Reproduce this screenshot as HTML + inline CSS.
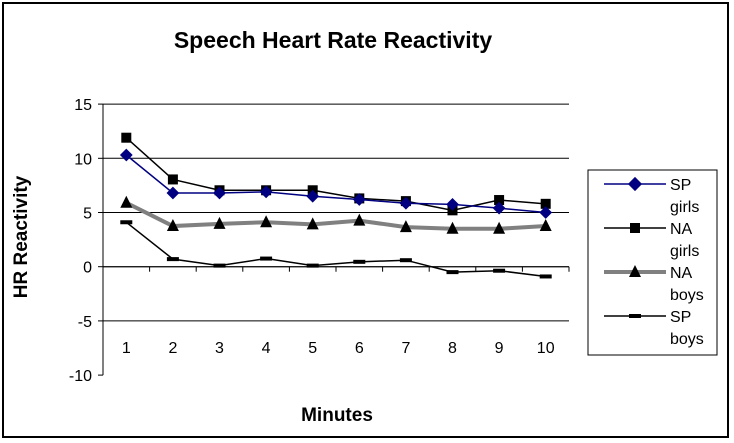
<!DOCTYPE html>
<html><head><meta charset="utf-8"><style>
body{margin:0;background:#fff;}
svg{display:block;font-family:"Liberation Sans",Arial,sans-serif;}
</style></head><body>
<svg width="734" height="443">
<rect x="3" y="3" width="725" height="434" fill="#fff" stroke="#000" stroke-width="2"/>
<text x="333" y="48" text-anchor="middle" font-size="23" font-weight="bold">Speech Heart Rate Reactivity</text>
<text transform="translate(27,237) rotate(-90)" text-anchor="middle" font-size="19" font-weight="bold">HR Reactivity</text>
<text x="337" y="421" text-anchor="middle" font-size="19" font-weight="bold">Minutes</text>
<g id="grid"></g><g id="axes"></g><g id="series"></g>
<g>
<rect x="588" y="170" width="129" height="185" fill="#fff" stroke="#000" stroke-width="1"/>
<g font-size="16">
<line x1="604" y1="184" x2="666" y2="184" stroke="#000080" stroke-width="1.5"/><rect x="630" y="179" width="10" height="10" fill="#000080" transform="rotate(45 635 184)"/>
<text x="670" y="190">SP</text><text x="670" y="212">girls</text>
<line x1="604" y1="228" x2="666" y2="228" stroke="#000" stroke-width="1.5"/><rect x="630" y="223" width="10" height="10" fill="#000"/>
<text x="670" y="234">NA</text><text x="670" y="256">girls</text>
<line x1="604" y1="272" x2="666" y2="272" stroke="#808080" stroke-width="4"/><polygon points="635,265 641,277 629,277" fill="#000"/>
<text x="670" y="278">NA</text><text x="670" y="300">boys</text>
<line x1="604" y1="316" x2="666" y2="316" stroke="#000" stroke-width="1.5"/><rect x="629" y="314" width="12" height="4" fill="#000"/>
<text x="670" y="322">SP</text><text x="670" y="344">boys</text>
</g></g>
</svg>
<script>
const categories=["1","2","3","4","5","6","7","8","9","10"];
const yTicks=[15,10,5,0,-5,-10];
const spGirls=[10.3,6.8,6.8,6.9,6.5,6.2,5.85,5.75,5.4,5.0];
const naGirls=[11.9,8.05,7.05,7.05,7.05,6.3,6.05,5.2,6.15,5.8];
const naBoys=[5.9,3.75,3.95,4.1,3.9,4.25,3.65,3.5,3.5,3.75];
const spBoys=[4.1,0.7,0.1,0.75,0.1,0.45,0.6,-0.5,-0.37,-0.9];
const NS="http://www.w3.org/2000/svg";
const L=103,R=569,T=104,B=375;
const y=v=>266.7-10.84*v;
const cw=(R-L)/categories.length;
const x=i=>L+cw*(i+0.5);
function mk(tag,attrs,parent){const e=document.createElementNS(NS,tag);for(const k in attrs)e.setAttribute(k,attrs[k]);parent.appendChild(e);return e;}
const grid=document.getElementById('grid'),axes=document.getElementById('axes'),ser=document.getElementById('series');
yTicks.forEach(t=>{
  if(t!==-10){const g=mk('line',{x1:L,x2:R,y1:y(t),y2:y(t),stroke:'#000','stroke-width':1},grid);
  
  }
  mk('line',{x1:L-5,x2:L,y1:y(t),y2:y(t),stroke:'#000'},axes);
  const tx=mk('text',{x:92,y:y(t)+6,'text-anchor':'end','font-size':16},axes);tx.textContent=t;
  
  
});
mk('line',{x1:L,x2:L,y1:y(15),y2:y(-10),stroke:'#000'},axes);
mk('line',{x1:L,x2:R,y1:y(0),y2:y(0),stroke:'#000'},axes);
categories.forEach((c,i)=>{
  mk('line',{x1:L+cw*(i+1),x2:L+cw*(i+1),y1:y(0),y2:y(0)+5,stroke:'#000'},axes);
  const tx=mk('text',{x:x(i),y:353,'text-anchor':'middle','font-size':16},axes);tx.textContent=c;
  
  
});
function series(data,color,w,marker,name){
  const p=mk('polyline',{points:data.map((v,i)=>x(i)+','+y(v)).join(' '),fill:'none',stroke:color,'stroke-width':w},ser);
  
  
  data.forEach((v,i)=>{
    const cx=x(i),cy=y(v);let m;
    if(marker==='diamond')m=mk('rect',{x:cx-4.5,y:cy-4.5,width:9,height:9,fill:'#000080',transform:`rotate(45 ${cx} ${cy})`},ser);
    else if(marker==='square')m=mk('rect',{x:cx-5,y:cy-5,width:10,height:10,fill:'#000'},ser);
    else if(marker==='triangle')m=mk('polygon',{points:`${cx},${cy-7} ${cx+6},${cy+5} ${cx-6},${cy+5}`,fill:'#000'},ser);
    else m=mk('rect',{x:cx-6,y:cy-2,width:12,height:4,fill:'#000'},ser);
    
    
  });
}
series(spBoys,'#000',1.5,'dash','sp-boys');
series(naBoys,'#808080',4,'triangle','na-boys');
series(naGirls,'#000',1.5,'square','na-girls');
series(spGirls,'#000080',1.5,'diamond','sp-girls');
</script>
</body></html>
